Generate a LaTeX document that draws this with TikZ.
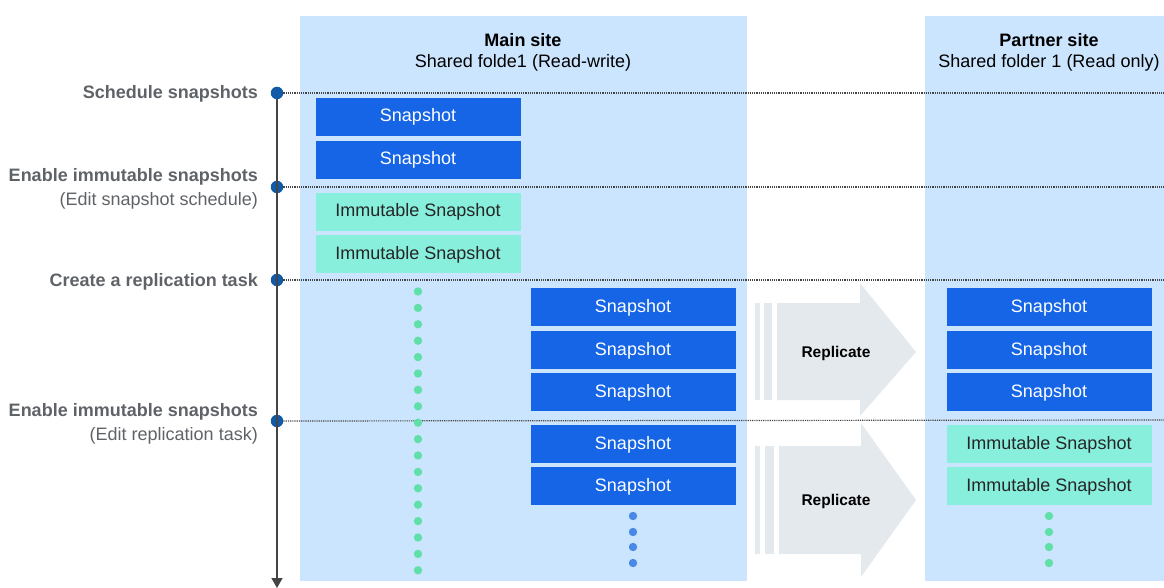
\documentclass[tikz,border=0pt]{standalone}
\usepackage{fontspec}
\setmainfont{Liberation Sans}
\usepackage{tikz}
\usetikzlibrary{positioning,arrows.meta,calc}
\definecolor{panel}{HTML}{CCE5FE}
\definecolor{snapblue}{HTML}{1565E6}
\definecolor{immut}{HTML}{87EFDC}
\definecolor{greendot}{HTML}{60E0A8}
\definecolor{bluedot}{HTML}{4A88E8}
\definecolor{markblue}{HTML}{1259A8}
\definecolor{labelgray}{HTML}{5F6368}
\definecolor{replgray}{HTML}{E4E9EE}
\definecolor{axisgray}{HTML}{444444}
\begin{document}
\begin{tikzpicture}[x=1pt,y=-1pt,
        snap/.style={fill=snapblue, text=white, minimum width=205pt,
                     minimum height=38pt, inner sep=0pt, text height=13pt, text depth=3pt,
                     font=\fontsize{18}{21}\selectfont},
        imm/.style={snap, fill=immut, text=black!85},
        tdot/.style={circle, fill=markblue, minimum size=12.5pt, inner sep=0pt},
        sep/.style={densely dotted, axisgray, line width=1.2pt},
        lbl/.style={anchor=east, inner sep=0pt, text height=13pt, text depth=3pt,
                    font=\fontsize{18}{21}\selectfont},
        step lbl/.style={lbl, text=labelgray, font=\fontsize{18}{21}\selectfont\bfseries},
        repl/.style={fill=replgray},
      ]
        \useasboundingbox (0,0) rectangle (1164,588);

        % site panels
        \fill[panel] (300,16) rectangle (747,581);
        \fill[panel] (925,16) rectangle (1164,581);
        \node[font=\fontsize{18}{21}\selectfont\bfseries] (main) at (523,40) {Main site};
        \node[font=\fontsize{18}{21}\selectfont] (mainsub) at (523,63) {Shared folde1 (Read-write)};
        \node[font=\fontsize{18}{21}\selectfont\bfseries] (partner) at (1049,40) {Partner site};
        \node[font=\fontsize{18}{21}\selectfont] (partnersub) at (1049,63) {Shared folder 1 (Read only)};

        % replicate arrows
        \fill[repl] (777,303) -- (860,303) -- (860,283) -- (916,352) -- (860,416)
                    -- (860,400) -- (777,400) -- cycle;
        \fill[repl] (755,303) rectangle (760,400);
        \fill[repl] (764,303) rectangle (772,400);
        \node[font=\fontsize{15.5}{18}\selectfont\bfseries] (rep1) at (836,353) {Replicate};

        \fill[repl] (779,446) -- (861,446) -- (861,423) -- (916,500) -- (861,577)
                    -- (861,554) -- (779,554) -- cycle;
        \fill[repl] (755,446) rectangle (760,554);
        \fill[repl] (765,446) rectangle (774,554);
        \node[font=\fontsize{15.5}{18}\selectfont\bfseries] (rep2) at (836,501) {Replicate};

        % timeline
        \node[tdot] (t1) at (277,93) {};
        \node[tdot] (t2) at (277,187) {};
        \node[tdot] (t3) at (277,280) {};
        \node[tdot] (t4) at (277,421) {};
        \coordinate (tend) at (277,588);
        \draw[axisgray, line width=1.6pt, -{Triangle[width=11pt,length=10pt]}] (t1) -- (tend);

        \coordinate (e1) at (1164,93);
        \coordinate (e2) at (1164,187);
        \coordinate (e3) at (1164,280);
        \coordinate (e4) at (1164,420);
        \draw[sep] (t1) -- (e1);
        \draw[sep] (t2) -- (e2);
        \draw[sep] (t3) -- (e3);
        \draw[sep] (t4) -- (e4);

        \node[step lbl] (l1) at (258,94) {Schedule snapshots};
        \node[step lbl] (l2) at (258,177) {Enable immutable snapshots};
        \node[lbl, text=labelgray] (l2b) at (258,200) {(Edit snapshot schedule)};
        \node[step lbl] (l3) at (258,281) {Create a replication task};
        \node[step lbl] (l4) at (258,411) {Enable immutable snapshots};
        \node[lbl, text=labelgray] (l4b) at (258,435) {(Edit replication task)};

        % main site, before replication
        \node[snap] (m1) at (418,117) {Snapshot};
        \node[snap] (m2) at (418,160) {Snapshot};
        \node[imm] (m3) at (418,212) {Immutable Snapshot};
        \node[imm] (m4) at (418,254) {Immutable Snapshot};
        \foreach \k in {0,...,17}
          \fill[greendot] (418,291.5+16.4*\k) circle (4.2);

        % main site, replicated
        \node[snap] (r1) at (633,307) {Snapshot};
        \node[snap] (r2) at (633,350) {Snapshot};
        \node[snap] (r3) at (633,392) {Snapshot};
        \node[snap] (r4) at (633,444) {Snapshot};
        \node[snap] (r5) at (633,486) {Snapshot};
        \foreach \y in {516,532,547,563}
          \fill[bluedot] (633,\y) circle (4.2);

        % partner site
        \node[snap] (p1) at (1049,307) {Snapshot};
        \node[snap] (p2) at (1049,350) {Snapshot};
        \node[snap] (p3) at (1049,392) {Snapshot};
        \node[imm] (p4) at (1049,444) {Immutable Snapshot};
        \node[imm] (p5) at (1049,486) {Immutable Snapshot};
        \foreach \y in {516,532,547,563}
          \fill[greendot] (1049,\y) circle (4.2);
      \end{tikzpicture}
\end{document}
